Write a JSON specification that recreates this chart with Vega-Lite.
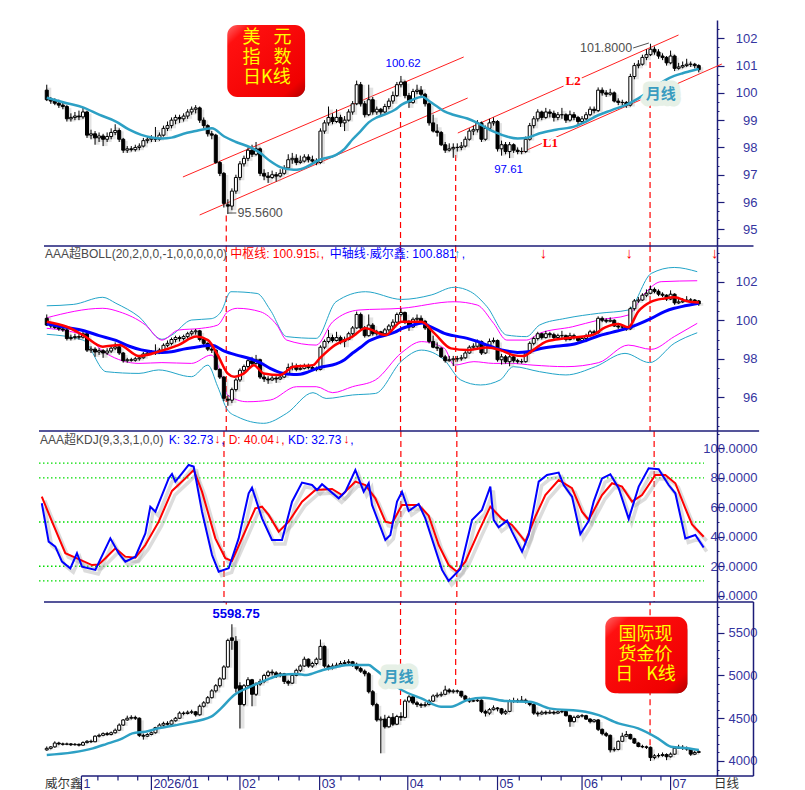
{
"$schema":"https://vega.github.io/schema/vega-lite/v6.json",
"background":"white",
"padding":{"left":37,"top":20,"right":0,"bottom":0},
"spacing":0,
"bounds":"flush",
"config":{"view":{"stroke":null},"font":"Liberation Sans, Noto Sans CJK SC"},
"datasets":{
"dxy":[
{"i":0,"o":100.1,"h":100.3,"l":99.7,"c":99.75},{"i":1,"o":99.75,"h":99.85,"l":99.6,"c":99.7},{"i":2,"o":99.7,"h":99.8,"l":99.55,"c":99.62},{"i":3,"o":99.62,"h":99.75,"l":99.45,"c":99.55},{"i":4,"o":99.55,"h":99.7,"l":99.4,"c":99.5},{"i":5,"o":99.5,"h":99.55,"l":98.95,"c":99.05},{"i":6,"o":99.05,"h":99.25,"l":98.95,"c":99.1},{"i":7,"o":99.1,"h":99.3,"l":99.0,"c":99.15},{"i":8,"o":99.15,"h":99.35,"l":99.0,"c":99.12},{"i":9,"o":99.12,"h":99.45,"l":99.05,"c":99.3},
{"i":10,"o":99.3,"h":99.35,"l":98.35,"c":98.45},{"i":11,"o":98.45,"h":98.65,"l":98.3,"c":98.5},{"i":12,"o":98.5,"h":98.6,"l":98.1,"c":98.35},{"i":13,"o":98.35,"h":98.55,"l":98.2,"c":98.42},{"i":14,"o":98.42,"h":98.5,"l":98.05,"c":98.3},{"i":15,"o":98.3,"h":98.55,"l":98.2,"c":98.4},{"i":16,"o":98.4,"h":98.7,"l":98.3,"c":98.55},{"i":17,"o":98.55,"h":98.85,"l":98.45,"c":98.62},{"i":18,"o":98.62,"h":98.7,"l":98.2,"c":98.3},{"i":19,"o":98.3,"h":98.35,"l":97.8,"c":97.9},
{"i":20,"o":97.9,"h":98.05,"l":97.8,"c":97.95},{"i":21,"o":97.95,"h":98.05,"l":97.85,"c":97.92},{"i":22,"o":97.92,"h":98.1,"l":97.85,"c":98.0},{"i":23,"o":98.0,"h":98.15,"l":97.9,"c":98.05},{"i":24,"o":98.05,"h":98.35,"l":98.0,"c":98.25},{"i":25,"o":98.25,"h":98.4,"l":98.15,"c":98.3},{"i":26,"o":98.3,"h":98.45,"l":98.2,"c":98.35},{"i":27,"o":98.35,"h":98.75,"l":98.2,"c":98.3},{"i":28,"o":98.3,"h":98.55,"l":98.25,"c":98.45},{"i":29,"o":98.45,"h":98.8,"l":98.4,"c":98.7},
{"i":30,"o":98.7,"h":98.95,"l":98.6,"c":98.8},{"i":31,"o":98.8,"h":99.1,"l":98.7,"c":99.0},{"i":32,"o":99.0,"h":99.2,"l":98.85,"c":99.1},{"i":33,"o":99.1,"h":99.2,"l":98.9,"c":99.05},{"i":34,"o":99.05,"h":99.25,"l":98.95,"c":99.15},{"i":35,"o":99.15,"h":99.4,"l":99.05,"c":99.3},{"i":36,"o":99.3,"h":99.5,"l":99.2,"c":99.4},{"i":37,"o":99.4,"h":99.55,"l":99.25,"c":99.45},{"i":38,"o":99.45,"h":99.5,"l":98.9,"c":99.0},{"i":39,"o":99.0,"h":99.1,"l":98.7,"c":98.8},
{"i":40,"o":98.8,"h":98.85,"l":98.4,"c":98.5},{"i":41,"o":98.5,"h":98.6,"l":98.3,"c":98.45},{"i":42,"o":98.45,"h":98.5,"l":97.4,"c":97.45},{"i":43,"o":97.45,"h":97.5,"l":96.95,"c":97.05},{"i":44,"o":97.05,"h":97.1,"l":95.8,"c":95.95},{"i":45,"o":95.9,"h":96.1,"l":95.56,"c":95.85},{"i":46,"o":95.85,"h":96.5,"l":95.7,"c":96.4},{"i":47,"o":96.4,"h":97.0,"l":96.3,"c":96.9},{"i":48,"o":96.9,"h":97.5,"l":96.8,"c":97.4},{"i":49,"o":97.4,"h":97.7,"l":97.3,"c":97.6},
{"i":50,"o":97.6,"h":98.0,"l":97.5,"c":97.9},{"i":51,"o":97.9,"h":98.1,"l":97.65,"c":97.75},{"i":52,"o":97.75,"h":98.2,"l":97.7,"c":97.95},{"i":53,"o":97.95,"h":98.0,"l":96.95,"c":97.05},{"i":54,"o":97.05,"h":97.2,"l":96.8,"c":96.95},{"i":55,"o":96.95,"h":97.1,"l":96.7,"c":96.9},{"i":56,"o":96.9,"h":97.15,"l":96.85,"c":97.0},{"i":57,"o":97.0,"h":97.1,"l":96.75,"c":96.95},{"i":58,"o":96.95,"h":97.2,"l":96.9,"c":97.05},{"i":59,"o":97.05,"h":97.35,"l":97.0,"c":97.25},
{"i":60,"o":97.25,"h":97.75,"l":97.2,"c":97.55},{"i":61,"o":97.55,"h":97.8,"l":97.4,"c":97.6},{"i":62,"o":97.6,"h":97.75,"l":97.35,"c":97.45},{"i":63,"o":97.45,"h":97.7,"l":97.4,"c":97.5},{"i":64,"o":97.5,"h":97.75,"l":97.45,"c":97.65},{"i":65,"o":97.65,"h":97.75,"l":97.45,"c":97.55},{"i":66,"o":97.55,"h":97.7,"l":97.4,"c":97.5},{"i":67,"o":97.5,"h":97.6,"l":97.35,"c":97.45},{"i":68,"o":97.45,"h":98.7,"l":97.4,"c":98.6},{"i":69,"o":98.6,"h":99.0,"l":98.5,"c":98.9},
{"i":70,"o":98.9,"h":99.5,"l":98.8,"c":99.1},{"i":71,"o":99.1,"h":99.25,"l":98.85,"c":98.95},{"i":72,"o":98.95,"h":99.4,"l":98.9,"c":99.1},{"i":73,"o":99.1,"h":99.2,"l":98.75,"c":98.9},{"i":74,"o":98.9,"h":99.15,"l":98.6,"c":99.0},{"i":75,"o":99.0,"h":99.4,"l":98.95,"c":99.3},{"i":76,"o":99.3,"h":99.7,"l":99.2,"c":99.6},{"i":77,"o":99.6,"h":100.45,"l":99.55,"c":100.3},{"i":78,"o":100.3,"h":100.4,"l":99.5,"c":99.6},{"i":79,"o":99.6,"h":99.7,"l":99.1,"c":99.2},
{"i":80,"o":99.2,"h":100.3,"l":99.15,"c":99.75},{"i":81,"o":99.75,"h":99.85,"l":99.2,"c":99.3},{"i":82,"o":99.3,"h":99.5,"l":99.2,"c":99.4},{"i":83,"o":99.4,"h":99.45,"l":99.15,"c":99.3},{"i":84,"o":99.3,"h":99.6,"l":99.25,"c":99.5},{"i":85,"o":99.5,"h":99.8,"l":99.4,"c":99.7},{"i":86,"o":99.7,"h":100.05,"l":99.6,"c":99.9},{"i":87,"o":99.9,"h":100.4,"l":99.85,"c":100.3},{"i":88,"o":100.3,"h":100.62,"l":100.2,"c":100.4},{"i":89,"o":100.4,"h":100.45,"l":99.8,"c":99.9},
{"i":90,"o":99.9,"h":100.0,"l":99.45,"c":99.65},{"i":91,"o":99.65,"h":100.15,"l":99.6,"c":100.05},{"i":92,"o":100.05,"h":100.3,"l":99.95,"c":100.1},{"i":93,"o":100.1,"h":100.25,"l":99.85,"c":99.95},{"i":94,"o":99.95,"h":100.0,"l":99.5,"c":99.6},{"i":95,"o":99.6,"h":99.65,"l":98.8,"c":98.9},{"i":96,"o":98.9,"h":99.2,"l":98.55,"c":98.6},{"i":97,"o":98.6,"h":98.85,"l":98.4,"c":98.55},{"i":98,"o":98.55,"h":98.6,"l":98.05,"c":98.1},{"i":99,"o":98.1,"h":98.2,"l":97.8,"c":97.9},
{"i":100,"o":97.9,"h":98.15,"l":97.85,"c":97.95},{"i":101,"o":97.95,"h":98.15,"l":97.62,"c":98.0},{"i":102,"o":98.0,"h":98.15,"l":97.85,"c":98.0},{"i":103,"o":98.0,"h":98.2,"l":97.9,"c":98.05},{"i":104,"o":98.05,"h":98.4,"l":98.0,"c":98.3},{"i":105,"o":98.3,"h":98.7,"l":98.25,"c":98.6},{"i":106,"o":98.6,"h":98.8,"l":98.45,"c":98.65},{"i":107,"o":98.65,"h":99.0,"l":98.55,"c":98.9},{"i":108,"o":98.9,"h":98.95,"l":98.2,"c":98.3},{"i":109,"o":98.3,"h":98.8,"l":98.25,"c":98.7},
{"i":110,"o":98.7,"h":99.05,"l":98.6,"c":98.9},{"i":111,"o":98.9,"h":99.1,"l":98.8,"c":98.95},{"i":112,"o":98.95,"h":99.0,"l":97.85,"c":97.95},{"i":113,"o":97.95,"h":98.25,"l":97.7,"c":98.1},{"i":114,"o":98.1,"h":98.2,"l":97.75,"c":97.85},{"i":115,"o":97.85,"h":98.2,"l":97.61,"c":98.1},{"i":116,"o":98.1,"h":98.15,"l":97.8,"c":97.9},{"i":117,"o":97.9,"h":98.0,"l":97.75,"c":97.85},{"i":118,"o":97.85,"h":98.0,"l":97.75,"c":97.85},{"i":119,"o":97.85,"h":98.4,"l":97.8,"c":98.3},
{"i":120,"o":98.3,"h":98.9,"l":98.25,"c":98.8},{"i":121,"o":98.8,"h":99.15,"l":98.7,"c":99.05},{"i":122,"o":99.05,"h":99.4,"l":98.95,"c":99.3},{"i":123,"o":99.3,"h":99.35,"l":99.0,"c":99.1},{"i":124,"o":99.1,"h":99.45,"l":99.05,"c":99.3},{"i":125,"o":99.3,"h":99.4,"l":99.1,"c":99.25},{"i":126,"o":99.25,"h":99.35,"l":98.95,"c":99.1},{"i":127,"o":99.1,"h":99.3,"l":99.0,"c":99.2},{"i":128,"o":99.2,"h":99.45,"l":99.05,"c":99.2},{"i":129,"o":99.2,"h":99.25,"l":98.9,"c":99.0},
{"i":130,"o":99.0,"h":99.35,"l":98.95,"c":99.2},{"i":131,"o":99.2,"h":99.3,"l":99.0,"c":99.1},{"i":132,"o":99.1,"h":99.15,"l":98.85,"c":98.95},{"i":133,"o":98.95,"h":99.15,"l":98.9,"c":99.05},{"i":134,"o":99.05,"h":99.3,"l":99.0,"c":99.2},{"i":135,"o":99.2,"h":99.5,"l":99.15,"c":99.4},{"i":136,"o":99.4,"h":99.5,"l":99.25,"c":99.35},{"i":137,"o":99.35,"h":100.2,"l":99.3,"c":100.1},{"i":138,"o":100.1,"h":100.2,"l":99.9,"c":100.0},{"i":139,"o":100.0,"h":100.1,"l":99.85,"c":99.95},
{"i":140,"o":99.95,"h":100.15,"l":99.9,"c":100.0},{"i":141,"o":100.0,"h":100.05,"l":99.65,"c":99.7},{"i":142,"o":99.7,"h":99.8,"l":99.55,"c":99.65},{"i":143,"o":99.65,"h":99.75,"l":99.55,"c":99.65},{"i":144,"o":99.65,"h":99.7,"l":99.45,"c":99.55},{"i":145,"o":99.55,"h":100.7,"l":99.5,"c":100.6},{"i":146,"o":100.6,"h":101.1,"l":100.5,"c":101.0},{"i":147,"o":101.0,"h":101.2,"l":100.9,"c":101.05},{"i":148,"o":101.05,"h":101.4,"l":101.0,"c":101.3},{"i":149,"o":101.3,"h":101.6,"l":101.2,"c":101.4},
{"i":150,"o":101.4,"h":101.8,"l":101.35,"c":101.6},{"i":151,"o":101.6,"h":101.7,"l":101.4,"c":101.5},{"i":152,"o":101.5,"h":101.6,"l":101.25,"c":101.35},{"i":153,"o":101.35,"h":101.45,"l":101.2,"c":101.3},{"i":154,"o":101.3,"h":101.35,"l":101.0,"c":101.1},{"i":155,"o":101.1,"h":101.55,"l":101.05,"c":101.35},{"i":156,"o":101.35,"h":101.4,"l":100.8,"c":100.9},{"i":157,"o":100.9,"h":101.1,"l":100.85,"c":100.95},{"i":158,"o":100.95,"h":101.15,"l":100.9,"c":101.0},{"i":159,"o":101.0,"h":101.25,"l":100.95,"c":101.05},
{"i":160,"o":101.05,"h":101.15,"l":100.95,"c":101.05},{"i":161,"o":101.05,"h":101.1,"l":100.9,"c":101.0},{"i":162,"o":101.0,"h":101.05,"l":100.75,"c":100.85}
],
"gold":[
{"i":0,"o":4130,"h":4170,"l":4120,"c":4148},{"i":1,"o":4148,"h":4175,"l":4135,"c":4165},{"i":2,"o":4165,"h":4230,"l":4155,"c":4210},{"i":3,"o":4210,"h":4225,"l":4185,"c":4200},{"i":4,"o":4200,"h":4215,"l":4180,"c":4195},{"i":5,"o":4195,"h":4215,"l":4185,"c":4200},{"i":6,"o":4200,"h":4210,"l":4175,"c":4190},{"i":7,"o":4190,"h":4210,"l":4180,"c":4195},{"i":8,"o":4195,"h":4205,"l":4170,"c":4185},{"i":9,"o":4185,"h":4230,"l":4180,"c":4215},
{"i":10,"o":4215,"h":4245,"l":4205,"c":4230},{"i":11,"o":4230,"h":4250,"l":4210,"c":4225},{"i":12,"o":4225,"h":4300,"l":4220,"c":4290},{"i":13,"o":4290,"h":4320,"l":4275,"c":4300},{"i":14,"o":4300,"h":4335,"l":4290,"c":4320},{"i":15,"o":4320,"h":4340,"l":4295,"c":4310},{"i":16,"o":4310,"h":4345,"l":4300,"c":4330},{"i":17,"o":4330,"h":4380,"l":4320,"c":4360},{"i":18,"o":4360,"h":4440,"l":4350,"c":4420},{"i":19,"o":4420,"h":4490,"l":4410,"c":4480},
{"i":20,"o":4480,"h":4530,"l":4470,"c":4500},{"i":21,"o":4500,"h":4535,"l":4485,"c":4510},{"i":22,"o":4510,"h":4530,"l":4480,"c":4500},{"i":23,"o":4500,"h":4510,"l":4280,"c":4300},{"i":24,"o":4300,"h":4320,"l":4250,"c":4290},{"i":25,"o":4290,"h":4325,"l":4280,"c":4310},{"i":26,"o":4310,"h":4345,"l":4300,"c":4330},{"i":27,"o":4330,"h":4400,"l":4320,"c":4390},{"i":28,"o":4390,"h":4440,"l":4380,"c":4420},{"i":29,"o":4420,"h":4460,"l":4400,"c":4440},
{"i":30,"o":4440,"h":4465,"l":4415,"c":4430},{"i":31,"o":4430,"h":4485,"l":4420,"c":4470},{"i":32,"o":4470,"h":4515,"l":4460,"c":4500},{"i":33,"o":4500,"h":4580,"l":4490,"c":4560},{"i":34,"o":4560,"h":4580,"l":4535,"c":4555},{"i":35,"o":4555,"h":4590,"l":4545,"c":4570},{"i":36,"o":4570,"h":4600,"l":4550,"c":4575},{"i":37,"o":4575,"h":4585,"l":4520,"c":4540},{"i":38,"o":4540,"h":4660,"l":4530,"c":4640},{"i":39,"o":4640,"h":4700,"l":4625,"c":4680},
{"i":40,"o":4680,"h":4760,"l":4670,"c":4740},{"i":41,"o":4740,"h":4840,"l":4730,"c":4820},{"i":42,"o":4820,"h":4900,"l":4800,"c":4880},{"i":43,"o":4880,"h":4980,"l":4860,"c":4960},{"i":44,"o":4960,"h":5120,"l":4950,"c":5100},{"i":45,"o":5100,"h":5430,"l":5090,"c":5410},{"i":46,"o":5440,"h":5598.75,"l":5300,"c":5410},{"i":47,"o":5400,"h":5460,"l":4800,"c":4850},{"i":48,"o":4880,"h":4920,"l":4380,"c":4660},{"i":49,"o":4660,"h":4900,"l":4640,"c":4880},
{"i":50,"o":4880,"h":4980,"l":4860,"c":4950},{"i":51,"o":4950,"h":4960,"l":4640,"c":4780},{"i":52,"o":4780,"h":4920,"l":4760,"c":4900},{"i":53,"o":4900,"h":4960,"l":4880,"c":4930},{"i":54,"o":4930,"h":5020,"l":4910,"c":5000},{"i":55,"o":5000,"h":5060,"l":4980,"c":5040},{"i":56,"o":5040,"h":5070,"l":5000,"c":5030},{"i":57,"o":5030,"h":5050,"l":4970,"c":5000},{"i":58,"o":5000,"h":5040,"l":4980,"c":5020},{"i":59,"o":5020,"h":5030,"l":4900,"c":4930},
{"i":60,"o":4930,"h":4950,"l":4880,"c":4910},{"i":61,"o":4910,"h":5020,"l":4900,"c":5000},{"i":62,"o":5000,"h":5080,"l":4990,"c":5060},{"i":63,"o":5060,"h":5130,"l":5040,"c":5110},{"i":64,"o":5110,"h":5220,"l":5100,"c":5190},{"i":65,"o":5190,"h":5200,"l":5090,"c":5110},{"i":66,"o":5110,"h":5160,"l":5090,"c":5140},{"i":67,"o":5140,"h":5210,"l":5120,"c":5190},{"i":68,"o":5190,"h":5420,"l":5180,"c":5340},{"i":69,"o":5340,"h":5350,"l":5090,"c":5110},
{"i":70,"o":5110,"h":5130,"l":5060,"c":5090},{"i":71,"o":5090,"h":5140,"l":5070,"c":5110},{"i":72,"o":5110,"h":5150,"l":5090,"c":5120},{"i":73,"o":5120,"h":5170,"l":5100,"c":5140},{"i":74,"o":5140,"h":5180,"l":5120,"c":5150},{"i":75,"o":5150,"h":5190,"l":5130,"c":5160},{"i":76,"o":5160,"h":5170,"l":5100,"c":5130},{"i":77,"o":5130,"h":5150,"l":5060,"c":5080},{"i":78,"o":5080,"h":5100,"l":5030,"c":5050},{"i":79,"o":5050,"h":5070,"l":4990,"c":5020},
{"i":80,"o":5020,"h":5040,"l":4790,"c":4810},{"i":81,"o":4810,"h":4830,"l":4640,"c":4660},{"i":82,"o":4660,"h":4680,"l":4460,"c":4480},{"i":83,"o":4480,"h":4520,"l":4090,"c":4490},{"i":84,"o":4490,"h":4540,"l":4380,"c":4400},{"i":85,"o":4400,"h":4530,"l":4390,"c":4510},{"i":86,"o":4510,"h":4560,"l":4410,"c":4430},{"i":87,"o":4430,"h":4540,"l":4420,"c":4520},{"i":88,"o":4520,"h":4570,"l":4470,"c":4510},{"i":89,"o":4510,"h":4720,"l":4500,"c":4700},
{"i":90,"o":4700,"h":4770,"l":4680,"c":4750},{"i":91,"o":4750,"h":4770,"l":4660,"c":4680},{"i":92,"o":4680,"h":4700,"l":4630,"c":4660},{"i":93,"o":4660,"h":4680,"l":4620,"c":4650},{"i":94,"o":4650,"h":4690,"l":4630,"c":4660},{"i":95,"o":4660,"h":4720,"l":4650,"c":4700},{"i":96,"o":4700,"h":4780,"l":4690,"c":4760},{"i":97,"o":4760,"h":4800,"l":4740,"c":4770},{"i":98,"o":4770,"h":4810,"l":4750,"c":4780},{"i":99,"o":4780,"h":4880,"l":4770,"c":4830},
{"i":100,"o":4830,"h":4850,"l":4790,"c":4810},{"i":101,"o":4810,"h":4840,"l":4790,"c":4820},{"i":102,"o":4820,"h":4835,"l":4790,"c":4815},{"i":103,"o":4815,"h":4820,"l":4740,"c":4760},{"i":104,"o":4760,"h":4770,"l":4700,"c":4720},{"i":105,"o":4720,"h":4740,"l":4680,"c":4700},{"i":106,"o":4700,"h":4730,"l":4690,"c":4705},{"i":107,"o":4705,"h":4740,"l":4690,"c":4710},{"i":108,"o":4710,"h":4720,"l":4560,"c":4580},{"i":109,"o":4580,"h":4600,"l":4520,"c":4560},
{"i":110,"o":4560,"h":4620,"l":4540,"c":4600},{"i":111,"o":4600,"h":4650,"l":4590,"c":4620},{"i":112,"o":4620,"h":4630,"l":4580,"c":4610},{"i":113,"o":4610,"h":4620,"l":4540,"c":4560},{"i":114,"o":4560,"h":4600,"l":4540,"c":4580},{"i":115,"o":4580,"h":4720,"l":4570,"c":4700},{"i":116,"o":4700,"h":4740,"l":4680,"c":4705},{"i":117,"o":4705,"h":4730,"l":4680,"c":4700},{"i":118,"o":4700,"h":4760,"l":4690,"c":4710},{"i":119,"o":4710,"h":4730,"l":4670,"c":4690},
{"i":120,"o":4690,"h":4700,"l":4640,"c":4660},{"i":121,"o":4660,"h":4670,"l":4540,"c":4560},{"i":122,"o":4560,"h":4580,"l":4520,"c":4550},{"i":123,"o":4550,"h":4590,"l":4540,"c":4570},{"i":124,"o":4570,"h":4590,"l":4540,"c":4560},{"i":125,"o":4560,"h":4600,"l":4550,"c":4570},{"i":126,"o":4570,"h":4590,"l":4540,"c":4560},{"i":127,"o":4560,"h":4590,"l":4550,"c":4575},{"i":128,"o":4575,"h":4600,"l":4560,"c":4580},{"i":129,"o":4580,"h":4590,"l":4520,"c":4530},
{"i":130,"o":4530,"h":4540,"l":4400,"c":4460},{"i":131,"o":4460,"h":4530,"l":4450,"c":4510},{"i":132,"o":4510,"h":4540,"l":4500,"c":4525},{"i":133,"o":4525,"h":4550,"l":4510,"c":4530},{"i":134,"o":4530,"h":4540,"l":4480,"c":4490},{"i":135,"o":4490,"h":4500,"l":4440,"c":4460},{"i":136,"o":4460,"h":4490,"l":4450,"c":4480},{"i":137,"o":4480,"h":4490,"l":4350,"c":4370},{"i":138,"o":4370,"h":4380,"l":4300,"c":4320},{"i":139,"o":4320,"h":4340,"l":4280,"c":4300},
{"i":140,"o":4300,"h":4310,"l":4100,"c":4130},{"i":141,"o":4130,"h":4160,"l":4110,"c":4135},{"i":142,"o":4135,"h":4240,"l":4125,"c":4230},{"i":143,"o":4230,"h":4330,"l":4220,"c":4290},{"i":144,"o":4290,"h":4350,"l":4280,"c":4310},{"i":145,"o":4310,"h":4320,"l":4250,"c":4260},{"i":146,"o":4260,"h":4270,"l":4200,"c":4210},{"i":147,"o":4210,"h":4220,"l":4160,"c":4170},{"i":148,"o":4170,"h":4190,"l":4150,"c":4165},{"i":149,"o":4165,"h":4180,"l":4140,"c":4160},
{"i":150,"o":4160,"h":4170,"l":4000,"c":4040},{"i":151,"o":4040,"h":4080,"l":4020,"c":4060},{"i":152,"o":4060,"h":4090,"l":4040,"c":4065},{"i":153,"o":4065,"h":4100,"l":4050,"c":4075},{"i":154,"o":4075,"h":4090,"l":4010,"c":4050},{"i":155,"o":4050,"h":4100,"l":4040,"c":4080},{"i":156,"o":4080,"h":4160,"l":4070,"c":4150},{"i":157,"o":4150,"h":4190,"l":4140,"c":4160},{"i":158,"o":4160,"h":4185,"l":4130,"c":4150},{"i":159,"o":4150,"h":4170,"l":4120,"c":4140},
{"i":160,"o":4140,"h":4150,"l":4060,"c":4080},{"i":161,"o":4080,"h":4120,"l":4070,"c":4100},{"i":162,"o":4100,"h":4125,"l":4090,"c":4110}
],
"ma":[
{"i":0,"v":99.82},{"i":5,"v":99.62},{"i":9,"v":99.47},{"i":13,"v":99.2},{"i":17.2,"v":98.95},{"i":20.5,"v":98.65},{"i":23.5,"v":98.46},{"i":28.6,"v":98.33},{"i":31,"v":98.36},{"i":34,"v":98.5},{"i":37,"v":98.6},{"i":39.5,"v":98.68},{"i":41,"v":98.7},{"i":44.1,"v":98.4},{"i":47,"v":98.2},{"i":50.6,"v":98.0},{"i":53,"v":97.8},{"i":55.5,"v":97.5},{"i":58,"v":97.28},{"i":61.3,"v":97.18},{"i":63,"v":97.2},{"i":65,"v":97.32},{"i":67.8,"v":97.55},{"i":71.9,"v":97.73},{"i":74,"v":97.95},{"i":76,"v":98.3},{"i":78,"v":98.6},{"i":80,"v":98.92},{"i":82,"v":99.1},{"i":84.5,"v":99.24},{"i":86.5,"v":99.38},{"i":88.2,"v":99.57},{"i":90.5,"v":99.72},{"i":93.3,"v":99.86},{"i":95,"v":99.7},{"i":97,"v":99.5},{"i":98.8,"v":99.32},{"i":101,"v":99.2},{"i":104.5,"v":99.06},{"i":107,"v":98.9},{"i":109.4,"v":98.7},{"i":111.5,"v":98.55},{"i":114.3,"v":98.4},{"i":117,"v":98.33},{"i":119.5,"v":98.36},{"i":122.5,"v":98.52},{"i":126.5,"v":98.65},{"i":131.4,"v":98.78},{"i":134,"v":98.95},{"i":137,"v":99.18},{"i":140.4,"v":99.37},{"i":144.5,"v":99.6},{"i":147,"v":99.8},{"i":150.2,"v":100.1},{"i":153.5,"v":100.45},{"i":155.9,"v":100.62},{"i":158,"v":100.72},{"i":160,"v":100.8},{"i":162,"v":100.88}
],
"mid":[
{"i":0,"v":99.92},{"i":4.94,"v":99.66},{"i":9.02,"v":99.23},{"i":13.92,"v":98.63},{"i":18.0,"v":98.71},{"i":22.91,"v":98.14},{"i":27.8,"v":98.37},{"i":32.69,"v":98.71},{"i":37.18,"v":99.15},{"i":40.04,"v":98.97},{"i":42.48,"v":98.19},{"i":44.93,"v":97.24},{"i":46.56,"v":97.07},{"i":49.01,"v":97.24},{"i":51.46,"v":97.67},{"i":53.91,"v":97.24},{"i":57.99,"v":97.16},{"i":61.26,"v":97.59},{"i":66.15,"v":97.67},{"i":67.79,"v":98.02},{"i":71.05,"v":98.63},{"i":75.95,"v":99.15},{"i":79.21,"v":99.58},{"i":84.1,"v":99.23},{"i":88.18,"v":99.92},{"i":93.08,"v":99.92},{"i":96.34,"v":99.32},{"i":100.42,"v":98.54},{"i":104.5,"v":98.45},{"i":109.4,"v":98.59},{"i":112.66,"v":98.45},{"i":115.92,"v":98.19},{"i":118.37,"v":98.14},{"i":120.82,"v":98.45},{"i":124.08,"v":98.89},{"i":128.98,"v":99.06},{"i":135.51,"v":99.23},{"i":138.77,"v":99.63},{"i":142.04,"v":99.8},{"i":144.48,"v":99.63},{"i":146.93,"v":100.44},{"i":150.2,"v":100.96},{"i":153.46,"v":101.13},{"i":155.91,"v":101.19},{"i":159.17,"v":100.99},{"i":162.03,"v":100.915}
],
"bands":[
{"s":"ou","i":0,"v":100.75},{"s":"ou","i":6.58,"v":100.82},{"s":"ou","i":13.92,"v":101.19},{"s":"ou","i":17.18,"v":100.88},{"s":"ou","i":22.91,"v":100.18},{"s":"ou","i":28.61,"v":99.01},{"s":"ou","i":31.06,"v":99.23},{"s":"ou","i":35.95,"v":100.01},{"s":"ou","i":40.85,"v":100.08},{"s":"ou","i":43.3,"v":100.44},{"s":"ou","i":45.75,"v":101.48},{"s":"ou","i":52.27,"v":101.39},{"s":"ou","i":55.54,"v":100.53},{"s":"ou","i":59.62,"v":99.15},{"s":"ou","i":66.97,"v":99.06},{"s":"ou","i":71.87,"v":100.96},{"s":"ou","i":79.21,"v":101.48},{"s":"ou","i":88.18,"v":101.08},{"s":"ou","i":95.52,"v":101.31},{"s":"ou","i":101.24,"v":101.71},{"s":"ou","i":105.32,"v":101.48},{"s":"ou","i":109.4,"v":100.7},{"s":"ou","i":114.29,"v":99.23},{"s":"ou","i":119.19,"v":99.15},{"s":"ou","i":122.45,"v":99.75},{"s":"ou","i":128.98,"v":100.1},{"s":"ou","i":137.14,"v":100.36},{"s":"ou","i":144.48,"v":100.53},{"s":"ou","i":150.2,"v":102.43},{"s":"ou","i":155.91,"v":102.74},{"s":"ou","i":161.62,"v":102.52},
{"s":"iu","i":0,"v":100.13},{"s":"iu","i":13.92,"v":100.62},{"s":"iu","i":18.0,"v":100.44},{"s":"iu","i":24.54,"v":99.75},{"s":"iu","i":28.61,"v":98.97},{"s":"iu","i":32.69,"v":99.49},{"s":"iu","i":38.4,"v":99.58},{"s":"iu","i":42.48,"v":99.75},{"s":"iu","i":44.93,"v":100.44},{"s":"iu","i":47.38,"v":100.62},{"s":"iu","i":53.09,"v":100.44},{"s":"iu","i":57.17,"v":99.75},{"s":"iu","i":59.62,"v":98.97},{"s":"iu","i":66.97,"v":98.71},{"s":"iu","i":71.05,"v":99.92},{"s":"iu","i":77.58,"v":100.53},{"s":"iu","i":88.18,"v":100.62},{"s":"iu","i":101.24,"v":100.96},{"s":"iu","i":106.95,"v":100.79},{"s":"iu","i":111.03,"v":99.84},{"s":"iu","i":114.29,"v":98.97},{"s":"iu","i":119.19,"v":98.97},{"s":"iu","i":122.45,"v":99.32},{"s":"iu","i":130.61,"v":99.66},{"s":"iu","i":137.14,"v":100.01},{"s":"iu","i":144.48,"v":100.27},{"s":"iu","i":148.56,"v":101.39},{"s":"iu","i":152.65,"v":102.0},{"s":"iu","i":161.62,"v":102.05},
{"s":"il","i":0,"v":99.58},{"s":"il","i":9.02,"v":99.23},{"s":"il","i":14.74,"v":98.28},{"s":"il","i":22.91,"v":97.76},{"s":"il","i":28.61,"v":97.8},{"s":"il","i":35.95,"v":97.76},{"s":"il","i":40.85,"v":98.19},{"s":"il","i":43.3,"v":97.24},{"s":"il","i":44.93,"v":96.12},{"s":"il","i":49.83,"v":95.77},{"s":"il","i":55.54,"v":95.86},{"s":"il","i":62.07,"v":96.55},{"s":"il","i":66.97,"v":96.55},{"s":"il","i":71.05,"v":96.24},{"s":"il","i":75.95,"v":96.55},{"s":"il","i":81.66,"v":96.9},{"s":"il","i":88.18,"v":98.32},{"s":"il","i":93.08,"v":98.89},{"s":"il","i":98.79,"v":98.54},{"s":"il","i":101.24,"v":97.67},{"s":"il","i":106.13,"v":97.85},{"s":"il","i":111.03,"v":97.76},{"s":"il","i":115.11,"v":97.76},{"s":"il","i":120.82,"v":97.67},{"s":"il","i":128.98,"v":97.59},{"s":"il","i":137.14,"v":97.8},{"s":"il","i":144.48,"v":98.71},{"s":"il","i":150.2,"v":98.49},{"s":"il","i":155.91,"v":99.15},{"s":"il","i":161.62,"v":99.84},
{"s":"ol","i":0,"v":99.27},{"s":"ol","i":9.02,"v":98.97},{"s":"ol","i":14.74,"v":97.33},{"s":"ol","i":22.91,"v":97.24},{"s":"ol","i":27.8,"v":97.42},{"s":"ol","i":35.95,"v":97.07},{"s":"ol","i":40.04,"v":97.67},{"s":"ol","i":42.48,"v":96.55},{"s":"ol","i":44.93,"v":95.34},{"s":"ol","i":47.38,"v":94.99},{"s":"ol","i":53.91,"v":94.65},{"s":"ol","i":59.62,"v":95.17},{"s":"ol","i":66.15,"v":96.24},{"s":"ol","i":69.42,"v":95.94},{"s":"ol","i":75.95,"v":96.12},{"s":"ol","i":81.66,"v":96.2},{"s":"ol","i":88.18,"v":97.89},{"s":"ol","i":93.08,"v":98.45},{"s":"ol","i":98.79,"v":97.93},{"s":"ol","i":102.87,"v":96.9},{"s":"ol","i":107.76,"v":96.64},{"s":"ol","i":112.66,"v":96.9},{"s":"ol","i":115.92,"v":97.59},{"s":"ol","i":122.45,"v":97.33},{"s":"ol","i":128.98,"v":97.16},{"s":"ol","i":136.32,"v":97.59},{"s":"ol","i":143.67,"v":98.28},{"s":"ol","i":149.79,"v":97.8},{"s":"ol","i":155.91,"v":98.8},{"s":"ol","i":161.62,"v":99.35}
],
"kd":[
{"s":"K","i":0,"v":62.7},{"s":"K","i":1.68,"v":36.7},{"s":"K","i":3.31,"v":33.3},{"s":"K","i":4.94,"v":23.1},{"s":"K","i":6.98,"v":18.6},{"s":"K","i":8.61,"v":28.8},{"s":"K","i":9.84,"v":19.7},{"s":"K","i":13.1,"v":17.5},{"s":"K","i":16.78,"v":38.9},{"s":"K","i":18.82,"v":28.8},{"s":"K","i":20.45,"v":23.1},{"s":"K","i":22.91,"v":26.5},{"s":"K","i":25.35,"v":42.3},{"s":"K","i":26.57,"v":60.4},{"s":"K","i":27.8,"v":57.0},{"s":"K","i":31.06,"v":79.6},{"s":"K","i":31.87,"v":82.6},{"s":"K","i":32.69,"v":77.4},{"s":"K","i":34.32,"v":83.0},{"s":"K","i":35.95,"v":88.7},{"s":"K","i":37.18,"v":87.6},{"s":"K","i":39.22,"v":57.0},{"s":"K","i":41.67,"v":27.6},{"s":"K","i":43.3,"v":16.3},{"s":"K","i":45.75,"v":18.6},{"s":"K","i":48.19,"v":38.9},{"s":"K","i":50.64,"v":69.5},{"s":"K","i":51.46,"v":73.3},{"s":"K","i":53.91,"v":52.5},{"s":"K","i":56.35,"v":37.8},{"s":"K","i":58.8,"v":37.8},{"s":"K","i":61.26,"v":63.8},{"s":"K","i":63.7,"v":76.7},{"s":"K","i":66.15,"v":75.1},{"s":"K","i":67.38,"v":71.7},{"s":"K","i":68.6,"v":75.6},{"s":"K","i":72.68,"v":66.1},{"s":"K","i":74.31,"v":70.6},{"s":"K","i":76.76,"v":85.3},{"s":"K","i":78.8,"v":70.6},{"s":"K","i":80.03,"v":76.3},{"s":"K","i":80.84,"v":61.6},{"s":"K","i":84.1,"v":37.8},{"s":"K","i":85.33,"v":41.2},{"s":"K","i":86.96,"v":63.8},{"s":"K","i":88.18,"v":70.5},{"s":"K","i":89.81,"v":57.5},{"s":"K","i":92.26,"v":62.2},{"s":"K","i":93.89,"v":52.5},{"s":"K","i":97.97,"v":17.5},{"s":"K","i":99.6,"v":10.0},{"s":"K","i":102.46,"v":18.1},{"s":"K","i":105.32,"v":51.4},{"s":"K","i":107.76,"v":58.2},{"s":"K","i":109.8,"v":74.0},{"s":"K","i":110.62,"v":51.4},{"s":"K","i":111.84,"v":46.4},{"s":"K","i":113.88,"v":50.9},{"s":"K","i":115.11,"v":43.5},{"s":"K","i":117.56,"v":29.9},{"s":"K","i":119.19,"v":41.2},{"s":"K","i":121.64,"v":77.4},{"s":"K","i":123.68,"v":81.9},{"s":"K","i":126.53,"v":83.5},{"s":"K","i":127.76,"v":75.1},{"s":"K","i":129.8,"v":67.2},{"s":"K","i":131.84,"v":41.7},{"s":"K","i":133.88,"v":50.7},{"s":"K","i":135.1,"v":63.8},{"s":"K","i":137.14,"v":79.6},{"s":"K","i":139.18,"v":82.4},{"s":"K","i":141.22,"v":72.9},{"s":"K","i":143.67,"v":52.1},{"s":"K","i":146.12,"v":74.0},{"s":"K","i":148.56,"v":86.4},{"s":"K","i":151.01,"v":85.8},{"s":"K","i":153.46,"v":75.1},{"s":"K","i":155.09,"v":69.5},{"s":"K","i":157.54,"v":38.9},{"s":"K","i":159.99,"v":41.2},{"s":"K","i":162.03,"v":32.73},
{"s":"D","i":0,"v":67.2},{"s":"D","i":2.5,"v":50.2},{"s":"D","i":5.76,"v":28.8},{"s":"D","i":8.21,"v":25.8},{"s":"D","i":12.29,"v":20.8},{"s":"D","i":13.92,"v":21.2},{"s":"D","i":15.56,"v":25.4},{"s":"D","i":18.0,"v":32.2},{"s":"D","i":20.45,"v":26.5},{"s":"D","i":22.91,"v":25.8},{"s":"D","i":25.35,"v":34.4},{"s":"D","i":28.61,"v":50.2},{"s":"D","i":31.87,"v":71.1},{"s":"D","i":35.14,"v":79.6},{"s":"D","i":37.18,"v":85.3},{"s":"D","i":39.22,"v":70.6},{"s":"D","i":42.48,"v":38.9},{"s":"D","i":44.93,"v":25.4},{"s":"D","i":46.56,"v":23.6},{"s":"D","i":49.01,"v":38.9},{"s":"D","i":52.27,"v":59.3},{"s":"D","i":53.91,"v":60.4},{"s":"D","i":55.54,"v":54.8},{"s":"D","i":57.99,"v":43.5},{"s":"D","i":60.44,"v":50.2},{"s":"D","i":63.7,"v":63.8},{"s":"D","i":66.97,"v":71.7},{"s":"D","i":71.05,"v":72.4},{"s":"D","i":73.5,"v":68.3},{"s":"D","i":76.76,"v":77.4},{"s":"D","i":79.21,"v":75.1},{"s":"D","i":81.66,"v":66.1},{"s":"D","i":84.1,"v":50.2},{"s":"D","i":85.74,"v":49.1},{"s":"D","i":88.18,"v":61.6},{"s":"D","i":92.26,"v":61.6},{"s":"D","i":94.71,"v":54.3},{"s":"D","i":97.16,"v":34.4},{"s":"D","i":99.6,"v":20.8},{"s":"D","i":101.64,"v":16.3},{"s":"D","i":103.68,"v":23.1},{"s":"D","i":106.95,"v":43.5},{"s":"D","i":109.8,"v":60.4},{"s":"D","i":112.66,"v":52.1},{"s":"D","i":115.11,"v":48.0},{"s":"D","i":118.37,"v":36.7},{"s":"D","i":120.82,"v":53.6},{"s":"D","i":123.27,"v":68.3},{"s":"D","i":126.53,"v":78.5},{"s":"D","i":129.8,"v":72.9},{"s":"D","i":132.24,"v":57.0},{"s":"D","i":133.88,"v":51.4},{"s":"D","i":137.14,"v":68.3},{"s":"D","i":139.59,"v":76.3},{"s":"D","i":142.04,"v":74.0},{"s":"D","i":144.48,"v":63.8},{"s":"D","i":146.93,"v":68.3},{"s":"D","i":150.2,"v":81.9},{"s":"D","i":152.65,"v":81.9},{"s":"D","i":155.09,"v":76.3},{"s":"D","i":157.54,"v":59.3},{"s":"D","i":159.17,"v":48.4},{"s":"D","i":162.03,"v":40.04}
],
"gma":[
{"i":0,"v":4070},{"i":11.47,"v":4148},{"i":14.74,"v":4198},{"i":18.82,"v":4265},{"i":21.27,"v":4323},{"i":24.54,"v":4343},{"i":27.8,"v":4382},{"i":34.32,"v":4440},{"i":40.85,"v":4518},{"i":43.3,"v":4615},{"i":46.56,"v":4771},{"i":50.64,"v":4869},{"i":55.54,"v":4966},{"i":57.99,"v":5005},{"i":62.07,"v":5017},{"i":64.52,"v":5005},{"i":66.15,"v":5025},{"i":68.6,"v":5064},{"i":71.87,"v":5100},{"i":75.13,"v":5122},{"i":80.03,"v":5122},{"i":81.25,"v":5083},{"i":88.18,"v":4830},{"i":93.08,"v":4732},{"i":97.97,"v":4635},{"i":100.42,"v":4635},{"i":104.5,"v":4713},{"i":108.58,"v":4740},{"i":114.29,"v":4701},{"i":120.0,"v":4693},{"i":124.9,"v":4615},{"i":133.88,"v":4576},{"i":137.14,"v":4537},{"i":142.04,"v":4440},{"i":146.93,"v":4382},{"i":151.83,"v":4265},{"i":155.09,"v":4167},{"i":159.17,"v":4148},{"i":162.03,"v":4128}
],
"trend":[
{"s":"A","i":37.99,"v":95.524},{"s":"A","i":104.58,"v":99.812},
{"s":"B","i":33.83,"v":96.917},{"s":"B","i":103.6,"v":101.315},
{"s":"L2","i":102.13,"v":98.529},{"s":"L2","i":156.97,"v":102.121},
{"s":"L1","i":118.36,"v":97.844},{"s":"L1","i":167.74,"v":101.058}
],
"vlines":[
{"i":44.6,"v1":95.51,"v4":5830},{"i":87.9,"v1":99.3,"v4":4655},{"i":101.6,"v1":97.72,"v4":4888},{"i":149.9,"v1":101.13,"v4":4185}
],
"kdgrid":[{"lv":90},{"lv":80},{"lv":50},{"lv":20},{"lv":10}],
"xticks":[
{"t":8.62,"k":"m","lab":"1"},{"t":26,"k":"m","lab":"2026/01"},{"t":48,"k":"m","lab":"02"},{"t":67.8,"k":"m","lab":"03"},{"t":89.7,"k":"m","lab":"04"},{"t":112,"k":"m","lab":"05"},{"t":133,"k":"m","lab":"06"},{"t":155,"k":"m","lab":"07"},
{"t":12.7,"k":"w","lab":""},{"t":17.7,"k":"w","lab":""},{"t":22.6,"k":"w","lab":""},{"t":30.2,"k":"w","lab":""},{"t":35.4,"k":"w","lab":""},{"t":40.2,"k":"w","lab":""},{"t":44.9,"k":"w","lab":""},{"t":52.7,"k":"w","lab":""},{"t":57.6,"k":"w","lab":""},{"t":62.7,"k":"w","lab":""},{"t":73.1,"k":"w","lab":""},{"t":77.6,"k":"w","lab":""},{"t":82.9,"k":"w","lab":""},{"t":97.8,"k":"w","lab":""},{"t":102.7,"k":"w","lab":""},{"t":107.6,"k":"w","lab":""},{"t":117.4,"k":"w","lab":""},{"t":122.9,"k":"w","lab":""},{"t":127.8,"k":"w","lab":""},{"t":137.9,"k":"w","lab":""},{"t":142.8,"k":"w","lab":""},{"t":147.7,"k":"w","lab":""},{"t":152.6,"k":"w","lab":""}
]
},
"vconcat":[
{"width":678,"height":226,
"resolve":{"axis":{"y":"independent"}},
"layer":[
{"data":{"name":"vlines"},"mark":{"type":"rule","color":"#ff0000","strokeWidth":1.2,"strokeDash":[6,4]},"encoding":{"x":{"field":"i","type":"quantitative","scale":{"domain":[-0.685,165.29],"nice":false,"zero":false},"axis":null},"y":{"field":"v1","type":"quantitative","scale":{"domain":[94.388,102.671],"nice":false,"zero":false},"axis":null},"y2":{"datum":94.388}}},
{"data":{"name":"trend"},"mark":{"type":"line","color":"#ff2020","strokeWidth":1},"encoding":{"x":{"field":"i","type":"quantitative","scale":{"domain":[-0.685,165.29],"nice":false,"zero":false},"axis":null},"y":{"field":"v","type":"quantitative","scale":{"domain":[94.388,102.671],"nice":false,"zero":false},"axis":null},"detail":{"field":"s"}}},
{"data":{"name":"dxy"},"mark":{"type":"bar","width":5,"color":"#b0b0b0","opacity":0.35,"xOffset":2,"yOffset":3},"encoding":{"x":{"field":"i","type":"quantitative","scale":{"domain":[-0.685,165.29],"nice":false,"zero":false},"axis":null},"y":{"field":"h","type":"quantitative","scale":{"domain":[94.388,102.671],"nice":false,"zero":false},"axis":null},"y2":{"field":"l"}}},
{"data":{"name":"dxy"},"mark":{"type":"rule","color":"#000000","strokeWidth":1},"encoding":{"x":{"field":"i","type":"quantitative","scale":{"domain":[-0.685,165.29],"nice":false,"zero":false},"axis":null},"y":{"field":"l","type":"quantitative","scale":{"domain":[94.388,102.671],"nice":false,"zero":false},"axis":null},"y2":{"field":"h"}}},
{"data":{"name":"dxy"},"mark":{"type":"bar","width":3,"stroke":"#000000","strokeWidth":1},"encoding":{"x":{"field":"i","type":"quantitative","scale":{"domain":[-0.685,165.29],"nice":false,"zero":false},"axis":null},"y":{"field":"o","type":"quantitative","scale":{"domain":[94.388,102.671],"nice":false,"zero":false},"axis":{"orient":"right","values":[95,96,97,98,99,100,101,102],"title":null,"grid":false,"domainColor":"#1c1c78","domainWidth":1.5,"tickColor":"#1c1c78","tickSize":7,"tickWidth":1.2,"labelAlign":"right","labelPadding":33,"labelColor":"#3535a0","labelFontSize":13,"labelFont":"Liberation Sans","labelOverlap":false,"labelFlush":false}},"y2":{"field":"c"},"fill":{"condition":{"test":"datum.c >= datum.o","value":"#ffffff"},"value":"#000000"}}},
{"data":{"name":"ma"},"mark":{"type":"line","color":"#2da0c4","strokeWidth":2.5,"interpolate":"monotone"},"encoding":{"x":{"field":"i","type":"quantitative","scale":{"domain":[-0.685,165.29],"nice":false,"zero":false},"axis":null},"y":{"field":"v","type":"quantitative","scale":{"domain":[94.388,102.671],"nice":false,"zero":false},"axis":{"orient":"right","values":[94.667,95.333,95.667,96.333,96.667,97.333,97.667,98.333,98.667,99.333,99.667,100.333,100.667,101.333,101.667,102.333],"title":null,"grid":false,"domain":false,"labels":false,"tickColor":"#1c1c78","tickSize":2,"tickWidth":1}}}},
{"data":{"values":[{}]},"mark":{"type":"rect","cornerRadius":10,"fill":"#4a0000","opacity":0.75,"xOffset":4,"yOffset":4},"encoding":{"x":{"datum":44.85,"type":"quantitative","axis":null},"x2":{"datum":64.18},"y":{"datum":102.487,"type":"quantitative","axis":null},"y2":{"datum":99.849}}},
{"data":{"values":[{}]},"mark":{"type":"rect","cornerRadius":10,"fill":{"gradient":"linear","x1":0,"y1":0,"x2":1,"y2":1,"stops":[{"offset":0,"color":"#ff6a6a"},{"offset":0.15,"color":"#ff1010"},{"offset":0.85,"color":"#f00000"},{"offset":1,"color":"#b00000"}]}},"encoding":{"x":{"datum":44.85,"type":"quantitative","axis":null},"x2":{"datum":64.18},"y":{"datum":102.487,"type":"quantitative","axis":null},"y2":{"datum":99.849}}},
{"data":{"values":[{}]},"mark":{"type":"text","text":["美\u2002 元","指\u2002 数","日K线"],"lineHeight":20,"fill":"#ffff00","fontSize":18,"font":"Noto Sans CJK SC"},"encoding":{"x":{"datum":54.7,"type":"quantitative","axis":null},"y":{"datum":101.993,"type":"quantitative","axis":null}}},
{"data":{"values":[{}]},"mark":{"type":"text","text":"100.62","fill":"#0000ff","fontSize":11.5},"encoding":{"x":{"datum":88.54,"type":"quantitative","axis":null},"y":{"datum":101.058,"type":"quantitative","axis":null}}},
{"data":{"values":[{}]},"mark":{"type":"text","text":"97.61","fill":"#0000ff","fontSize":11.5},"encoding":{"x":{"datum":114.74,"type":"quantitative","axis":null},"y":{"datum":97.173,"type":"quantitative","axis":null}}},
{"data":{"values":[{}]},"mark":{"type":"rule","color":"#505050","strokeWidth":1},"encoding":{"x":{"datum":44.9,"type":"quantitative","axis":null},"x2":{"datum":47.1},"y":{"datum":95.597,"type":"quantitative","axis":null}}},
{"data":{"values":[{}]},"mark":{"type":"text","text":"95.5600","fill":"#505050","fontSize":12.5,"align":"left"},"encoding":{"x":{"datum":47.42,"type":"quantitative","axis":null},"y":{"datum":95.597,"type":"quantitative","axis":null}}},
{"data":{"values":[{}]},"mark":{"type":"rule","color":"#505050","strokeWidth":1},"encoding":{"x":{"datum":145.7,"type":"quantitative","axis":null},"x2":{"datum":149.6},"y":{"datum":101.645,"type":"quantitative","axis":null},"y2":{"datum":101.828}}},
{"data":{"values":[{}]},"mark":{"type":"text","text":"101.8000","fill":"#505050","fontSize":12.5,"align":"right"},"encoding":{"x":{"datum":145.45,"type":"quantitative","axis":null},"y":{"datum":101.645,"type":"quantitative","axis":null}}},
{"data":{"values":[{}]},"mark":{"type":"text","text":"L2","fill":"#ff0000","stroke":"#ffffff","strokeWidth":4,"fontSize":13,"fontWeight":"bold","font":"Liberation Serif"},"encoding":{"x":{"datum":130.77,"type":"quantitative","axis":null},"y":{"datum":100.453,"type":"quantitative","axis":null}}},
{"data":{"values":[{}]},"mark":{"type":"text","text":"L2","fill":"#ff0000","fontSize":13,"fontWeight":"bold","font":"Liberation Serif"},"encoding":{"x":{"datum":130.77,"type":"quantitative","axis":null},"y":{"datum":100.453,"type":"quantitative","axis":null}}},
{"data":{"values":[{}]},"mark":{"type":"text","text":"L1","fill":"#ff0000","stroke":"#ffffff","strokeWidth":4,"fontSize":13,"fontWeight":"bold","font":"Liberation Serif"},"encoding":{"x":{"datum":125.14,"type":"quantitative","axis":null},"y":{"datum":98.181,"type":"quantitative","axis":null}}},
{"data":{"values":[{}]},"mark":{"type":"text","text":"L1","fill":"#ff0000","fontSize":13,"fontWeight":"bold","font":"Liberation Serif"},"encoding":{"x":{"datum":125.14,"type":"quantitative","axis":null},"y":{"datum":98.181,"type":"quantitative","axis":null}}},
{"data":{"values":[{}]},"mark":{"type":"text","text":"月线","fill":"#e2eee2","stroke":"#e6f0e6","strokeWidth":11,"strokeJoin":"round","fontSize":15,"fontWeight":"bold","font":"Noto Sans CJK SC"},"encoding":{"x":{"datum":152.56,"type":"quantitative","axis":null},"y":{"datum":99.977,"type":"quantitative","axis":null}}},
{"data":{"values":[{}]},"mark":{"type":"text","text":"月线","fill":"#3a9cc0","fontSize":15,"fontWeight":"bold","font":"Noto Sans CJK SC"},"encoding":{"x":{"datum":152.56,"type":"quantitative","axis":null},"y":{"datum":99.977,"type":"quantitative","axis":null}}}
]},
{"width":678,"height":185,
"resolve":{"axis":{"y":"independent"}},
"layer":[
{"data":{"name":"vlines"},"mark":{"type":"rule","color":"#ff0000","strokeWidth":1.2,"strokeDash":[6,4]},"encoding":{"x":{"field":"i","type":"quantitative","scale":{"domain":[-0.685,165.29],"nice":false,"zero":false},"axis":null},"y":{"datum":103.853,"type":"quantitative","axis":null},"y2":{"datum":94.251}}},
{"data":{"name":"bands"},"mark":{"type":"line","strokeWidth":1,"interpolate":"monotone"},"encoding":{"x":{"field":"i","type":"quantitative","scale":{"domain":[-0.685,165.29],"nice":false,"zero":false},"axis":null},"y":{"field":"v","type":"quantitative","scale":{"domain":[94.251,103.853],"nice":false,"zero":false},"axis":null},"color":{"field":"s","type":"nominal","scale":{"domain":["ou","ol","iu","il"],"range":["#22a4c8","#22a4c8","#ff00ff","#ff00ff"]},"legend":null}}},
{"data":{"name":"dxy"},"mark":{"type":"bar","width":5,"color":"#b0b0b0","opacity":0.35,"xOffset":2,"yOffset":3},"encoding":{"x":{"field":"i","type":"quantitative","scale":{"domain":[-0.685,165.29],"nice":false,"zero":false},"axis":null},"y":{"field":"h","type":"quantitative","scale":{"domain":[94.251,103.853],"nice":false,"zero":false},"axis":null},"y2":{"field":"l"}}},
{"data":{"name":"dxy"},"mark":{"type":"rule","color":"#000000","strokeWidth":1},"encoding":{"x":{"field":"i","type":"quantitative","scale":{"domain":[-0.685,165.29],"nice":false,"zero":false},"axis":null},"y":{"field":"l","type":"quantitative","scale":{"domain":[94.251,103.853],"nice":false,"zero":false},"axis":null},"y2":{"field":"h"}}},
{"data":{"name":"dxy"},"mark":{"type":"bar","width":3,"stroke":"#000000","strokeWidth":1},"encoding":{"x":{"field":"i","type":"quantitative","scale":{"domain":[-0.685,165.29],"nice":false,"zero":false},"axis":null},"y":{"field":"o","type":"quantitative","scale":{"domain":[94.251,103.853],"nice":false,"zero":false},"axis":{"orient":"right","values":[96,98,100,102],"title":null,"grid":false,"domainColor":"#1c1c78","domainWidth":1.5,"tickColor":"#1c1c78","tickSize":7,"tickWidth":1.2,"labelAlign":"right","labelPadding":33,"labelColor":"#3535a0","labelFontSize":13,"labelFont":"Liberation Sans","labelOverlap":false,"labelFlush":false}},"y2":{"field":"c"},"fill":{"condition":{"test":"datum.c >= datum.o","value":"#ffffff"},"value":"#000000"}}},
{"data":{"name":"ma"},"mark":{"type":"line","color":"#0000ff","strokeWidth":3,"interpolate":"monotone"},"encoding":{"x":{"field":"i","type":"quantitative","scale":{"domain":[-0.685,165.29],"nice":false,"zero":false},"axis":null},"y":{"field":"v","type":"quantitative","scale":{"domain":[94.251,103.853],"nice":false,"zero":false},"axis":{"orient":"right","values":[94.5,95,95.5,96.5,97,97.5,98.5,99,99.5,100.5,101,101.5,102.5,103,103.5],"title":null,"grid":false,"domain":false,"labels":false,"tickColor":"#1c1c78","tickSize":2,"tickWidth":1}}}},
{"data":{"name":"mid"},"mark":{"type":"line","color":"#ff0000","strokeWidth":2.5,"interpolate":"monotone"},"encoding":{"x":{"field":"i","type":"quantitative","scale":{"domain":[-0.685,165.29],"nice":false,"zero":false},"axis":null},"y":{"field":"v","type":"quantitative","scale":{"domain":[94.251,103.853],"nice":false,"zero":false},"axis":null}}},
{"data":{"values":[{}]},"mark":{"type":"rule","color":"#1c1c78","strokeWidth":1.5},"encoding":{"x":{"datum":-0.685,"type":"quantitative","axis":null},"x2":{"datum":175.6},"y":{"datum":103.853,"type":"quantitative","axis":null}}},
{"data":{"values":[{}]},"mark":{"type":"text","text":"AAA超BOLL(20,2,0,0,-1,0,0,0,0,0)","fill":"#4a4a4a","fontSize":12,"align":"left"},"encoding":{"x":{"datum":-0.44,"type":"quantitative","axis":null},"y":{"datum":103.44,"type":"quantitative","axis":null}}},
{"data":{"values":[{}]},"mark":{"type":"text","text":"中枢线: 100.915","fill":"#ff0000","fontSize":12,"align":"left"},"encoding":{"x":{"datum":45.58,"type":"quantitative","axis":null},"y":{"datum":103.44,"type":"quantitative","axis":null}}},
{"data":{"values":[{}]},"mark":{"type":"text","text":"↓,","fill":"#ff0000","fontSize":12,"align":"left"},"encoding":{"x":{"datum":66.6,"type":"quantitative","axis":null},"y":{"datum":103.44,"type":"quantitative","axis":null}}},
{"data":{"values":[{}]},"mark":{"type":"text","text":"中轴线·威尔鑫: 100.881","fill":"#0000ff","fontSize":12,"align":"left"},"encoding":{"x":{"datum":70.3,"type":"quantitative","axis":null},"y":{"datum":103.44,"type":"quantitative","axis":null}}},
{"data":{"values":[{}]},"mark":{"type":"text","text":"↑","fill":"#20a8c8","fontSize":12,"align":"left"},"encoding":{"x":{"datum":101.2,"type":"quantitative","axis":null},"y":{"datum":103.44,"type":"quantitative","axis":null}}},
{"data":{"values":[{}]},"mark":{"type":"text","text":",","fill":"#0000ff","fontSize":12,"align":"left"},"encoding":{"x":{"datum":103.1,"type":"quantitative","axis":null},"y":{"datum":103.44,"type":"quantitative","axis":null}}},
{"data":{"values":[{}]},"mark":{"type":"text","text":"↓","fill":"#ff0000","fontSize":15},"encoding":{"x":{"datum":123.43,"type":"quantitative","axis":null},"y":{"datum":103.464,"type":"quantitative","axis":null}}},
{"data":{"values":[{}]},"mark":{"type":"text","text":"↓","fill":"#ff0000","fontSize":15},"encoding":{"x":{"datum":144.72,"type":"quantitative","axis":null},"y":{"datum":103.464,"type":"quantitative","axis":null}}},
{"data":{"values":[{}]},"mark":{"type":"text","text":"↓","fill":"#ff0000","fontSize":15},"encoding":{"x":{"datum":166.0,"type":"quantitative","axis":null},"y":{"datum":103.464,"type":"quantitative","axis":null}}}
]},
{"width":678,"height":171,
"resolve":{"axis":{"y":"independent"}},
"layer":[
{"data":{"name":"kdgrid"},"mark":{"type":"rule","color":"#00dd00","strokeWidth":1.3,"strokeDash":[1.5,2.5]},"encoding":{"x":{"datum":-0.685,"type":"quantitative","scale":{"domain":[-0.685,165.29],"nice":false,"zero":false},"axis":null},"x2":{"datum":162.1},"y":{"field":"lv","type":"quantitative","scale":{"domain":[-4.27,111.74],"nice":false,"zero":false},"axis":null}}},
{"data":{"name":"vlines"},"mark":{"type":"rule","color":"#ff0000","strokeWidth":1.2,"strokeDash":[6,4]},"encoding":{"x":{"field":"i","type":"quantitative","scale":{"domain":[-0.685,165.29],"nice":false,"zero":false},"axis":null},"y":{"datum":111.74,"type":"quantitative","axis":null},"y2":{"datum":-4.27}}},
{"data":{"name":"kd"},"mark":{"type":"line","color":"#a8a8a8","strokeWidth":3.5,"opacity":0.4,"xOffset":3,"yOffset":4},"encoding":{"x":{"field":"i","type":"quantitative","scale":{"domain":[-0.685,165.29],"nice":false,"zero":false},"axis":null},"y":{"field":"v","type":"quantitative","scale":{"domain":[-4.27,111.74],"nice":false,"zero":false},"axis":null},"detail":{"field":"s"}}},
{"data":{"name":"kd"},"transform":[{"filter":"datum.s === 'D'"}],"mark":{"type":"line","color":"#ff0000","strokeWidth":2},"encoding":{"x":{"field":"i","type":"quantitative","scale":{"domain":[-0.685,165.29],"nice":false,"zero":false},"axis":null},"y":{"field":"v","type":"quantitative","scale":{"domain":[-4.27,111.74],"nice":false,"zero":false},"axis":{"orient":"right","values":[0,20,40,60,80,100],"format":".4f","title":null,"grid":false,"domainColor":"#1c1c78","domainWidth":1.5,"tickColor":"#1c1c78","tickSize":7,"tickWidth":1.2,"labelAlign":"right","labelPadding":33,"labelColor":"#3535a0","labelFontSize":13,"labelFont":"Liberation Sans","labelOverlap":false,"labelFlush":false}}}},
{"data":{"name":"kd"},"transform":[{"filter":"datum.s === 'K'"}],"mark":{"type":"line","color":"#0000ff","strokeWidth":2},"encoding":{"x":{"field":"i","type":"quantitative","scale":{"domain":[-0.685,165.29],"nice":false,"zero":false},"axis":null},"y":{"field":"v","type":"quantitative","scale":{"domain":[-4.27,111.74],"nice":false,"zero":false},"axis":{"orient":"right","values":[10,30,50,70,90,110],"title":null,"grid":false,"domain":false,"labels":false,"tickColor":"#1c1c78","tickSize":2,"tickWidth":1}}}},
{"data":{"values":[{}]},"mark":{"type":"rule","color":"#1c1c78","strokeWidth":1.5},"encoding":{"x":{"datum":-0.685,"type":"quantitative","axis":null},"x2":{"datum":175.6},"y":{"datum":111.74,"type":"quantitative","axis":null}}},
{"data":{"values":[{}]},"mark":{"type":"text","text":"AAA超KDJ(9,3,3,1,0,0)","fill":"#4a4a4a","fontSize":12,"align":"left"},"encoding":{"x":{"datum":-0.44,"type":"quantitative","axis":null},"y":{"datum":105.63,"type":"quantitative","axis":null}}},
{"data":{"values":[{}]},"mark":{"type":"text","text":"K: 32.73","fill":"#0000ff","fontSize":12,"align":"left"},"encoding":{"x":{"datum":31.06,"type":"quantitative","axis":null},"y":{"datum":105.63,"type":"quantitative","axis":null}}},
{"data":{"values":[{}]},"mark":{"type":"text","text":"↓","fill":"#ff0000","fontSize":13,"align":"left"},"encoding":{"x":{"datum":42.2,"type":"quantitative","axis":null},"y":{"datum":106.2,"type":"quantitative","axis":null}}},
{"data":{"values":[{}]},"mark":{"type":"text","text":",","fill":"#0000ff","fontSize":12,"align":"left"},"encoding":{"x":{"datum":43.9,"type":"quantitative","axis":null},"y":{"datum":105.63,"type":"quantitative","axis":null}}},
{"data":{"values":[{}]},"mark":{"type":"text","text":"D: 40.04","fill":"#ff0000","fontSize":12,"align":"left"},"encoding":{"x":{"datum":45.75,"type":"quantitative","axis":null},"y":{"datum":105.63,"type":"quantitative","axis":null}}},
{"data":{"values":[{}]},"mark":{"type":"text","text":"↓","fill":"#ff0000","fontSize":13,"align":"left"},"encoding":{"x":{"datum":56.9,"type":"quantitative","axis":null},"y":{"datum":106.2,"type":"quantitative","axis":null}}},
{"data":{"values":[{}]},"mark":{"type":"text","text":",","fill":"#ff0000","fontSize":12,"align":"left"},"encoding":{"x":{"datum":58.6,"type":"quantitative","axis":null},"y":{"datum":105.63,"type":"quantitative","axis":null}}},
{"data":{"values":[{}]},"mark":{"type":"text","text":"KD: 32.73","fill":"#0000ff","fontSize":12,"align":"left"},"encoding":{"x":{"datum":60.27,"type":"quantitative","axis":null},"y":{"datum":105.63,"type":"quantitative","axis":null}}},
{"data":{"values":[{}]},"mark":{"type":"text","text":"↓","fill":"#ff0000","fontSize":13,"align":"left"},"encoding":{"x":{"datum":73.8,"type":"quantitative","axis":null},"y":{"datum":106.2,"type":"quantitative","axis":null}}},
{"data":{"values":[{}]},"mark":{"type":"text","text":",","fill":"#0000ff","fontSize":12,"align":"left"},"encoding":{"x":{"datum":75.5,"type":"quantitative","axis":null},"y":{"datum":105.63,"type":"quantitative","axis":null}}}
]},
{"width":678,"height":174,
"resolve":{"axis":{"y":"independent"}},
"layer":[
{"data":{"name":"vlines"},"mark":{"type":"rule","color":"#ff0000","strokeWidth":1.2,"strokeDash":[6,4]},"encoding":{"x":{"field":"i","type":"quantitative","scale":{"domain":[-0.685,165.29],"nice":false,"zero":false},"axis":null},"y":{"field":"v4","type":"quantitative","scale":{"domain":[3824.6,5858.9],"nice":false,"zero":false},"axis":null},"y2":{"datum":5858.9}}},
{"data":{"name":"gold"},"mark":{"type":"bar","width":5,"color":"#b0b0b0","opacity":0.35,"xOffset":2,"yOffset":3},"encoding":{"x":{"field":"i","type":"quantitative","scale":{"domain":[-0.685,165.29],"nice":false,"zero":false},"axis":null},"y":{"field":"h","type":"quantitative","scale":{"domain":[3824.6,5858.9],"nice":false,"zero":false},"axis":null},"y2":{"field":"l"}}},
{"data":{"name":"gold"},"mark":{"type":"rule","color":"#000000","strokeWidth":1},"encoding":{"x":{"field":"i","type":"quantitative","scale":{"domain":[-0.685,165.29],"nice":false,"zero":false},"axis":null},"y":{"field":"l","type":"quantitative","scale":{"domain":[3824.6,5858.9],"nice":false,"zero":false},"axis":null},"y2":{"field":"h"}}},
{"data":{"name":"gold"},"mark":{"type":"bar","width":3,"stroke":"#000000","strokeWidth":1},"encoding":{"x":{"field":"i","type":"quantitative","scale":{"domain":[-0.685,165.29],"nice":false,"zero":false},"axis":null},"y":{"field":"o","type":"quantitative","scale":{"domain":[3824.6,5858.9],"nice":false,"zero":false},"axis":{"orient":"right","values":[4000,4500,5000,5500],"format":"d","title":null,"grid":false,"domainColor":"#1c1c78","domainWidth":1.5,"tickColor":"#1c1c78","tickSize":7,"tickWidth":1.2,"labelAlign":"right","labelPadding":33,"labelColor":"#3535a0","labelFontSize":13,"labelFont":"Liberation Sans","labelOverlap":false,"labelFlush":false}},"y2":{"field":"c"},"fill":{"condition":{"test":"datum.c >= datum.o","value":"#ffffff"},"value":"#000000"}}},
{"data":{"name":"gma"},"mark":{"type":"line","color":"#2da0c4","strokeWidth":2.5,"interpolate":"monotone"},"encoding":{"x":{"field":"i","type":"quantitative","scale":{"domain":[-0.685,165.29],"nice":false,"zero":false},"axis":null},"y":{"field":"v","type":"quantitative","scale":{"domain":[3824.6,5858.9],"nice":false,"zero":false},"axis":{"orient":"right","values":[3900,4100,4200,4300,4400,4600,4700,4800,4900,5100,5200,5300,5400,5600,5700,5800],"title":null,"grid":false,"domain":false,"labels":false,"tickColor":"#1c1c78","tickSize":2,"tickWidth":1}}}},
{"data":{"values":[{}]},"mark":{"type":"text","text":"5598.75","fill":"#0000ee","fontSize":13,"fontWeight":"bold"},"encoding":{"x":{"datum":47.05,"type":"quantitative","axis":null},"y":{"datum":5718.6,"type":"quantitative","axis":null}}},
{"data":{"values":[{}]},"mark":{"type":"text","text":"月线","fill":"#e2eee2","stroke":"#e6f0e6","strokeWidth":11,"strokeJoin":"round","fontSize":15,"fontWeight":"bold","font":"Noto Sans CJK SC"},"encoding":{"x":{"datum":87.37,"type":"quantitative","axis":null},"y":{"datum":4982,"type":"quantitative","axis":null}}},
{"data":{"values":[{}]},"mark":{"type":"text","text":"月线","fill":"#3a9cc0","fontSize":15,"fontWeight":"bold","font":"Noto Sans CJK SC"},"encoding":{"x":{"datum":87.37,"type":"quantitative","axis":null},"y":{"datum":4982,"type":"quantitative","axis":null}}},
{"data":{"values":[{}]},"mark":{"type":"rect","cornerRadius":10,"fill":"#4a0000","opacity":0.75,"xOffset":4,"yOffset":4},"encoding":{"x":{"datum":138.78,"type":"quantitative","axis":null},"x2":{"datum":159.17},"y":{"datum":5687,"type":"quantitative","axis":null},"y2":{"datum":4791.5}}},
{"data":{"values":[{}]},"mark":{"type":"rect","cornerRadius":10,"fill":{"gradient":"linear","x1":0,"y1":0,"x2":1,"y2":1,"stops":[{"offset":0,"color":"#ff6a6a"},{"offset":0.15,"color":"#ff1010"},{"offset":0.85,"color":"#f00000"},{"offset":1,"color":"#b00000"}]}},"encoding":{"x":{"datum":138.78,"type":"quantitative","axis":null},"x2":{"datum":159.17},"y":{"datum":5687,"type":"quantitative","axis":null},"y2":{"datum":4791.5}}},
{"data":{"values":[{}]},"mark":{"type":"text","text":["国际现","货金价","日\u2002 K线"],"lineHeight":20,"fill":"#ffff00","fontSize":18,"font":"Noto Sans CJK SC"},"encoding":{"x":{"datum":148.77,"type":"quantitative","axis":null},"y":{"datum":5467.3,"type":"quantitative","axis":null}}},
{"data":{"values":[{}]},"mark":{"type":"rule","color":"#1c1c78","strokeWidth":1.5},"encoding":{"x":{"datum":-0.685,"type":"quantitative","axis":null},"x2":{"datum":175.6},"y":{"datum":5858.9,"type":"quantitative","axis":null}}},
{"data":{"values":[{}]},"mark":{"type":"rule","color":"#1c1c78","strokeWidth":1.5},"encoding":{"x":{"datum":8.62,"type":"quantitative","axis":null},"x2":{"datum":175.6},"y":{"datum":3824.6,"type":"quantitative","axis":null}}},
{"data":{"values":[{}]},"mark":{"type":"rule","color":"#1c1c78","strokeWidth":1.5},"encoding":{"x":{"datum":175.6,"type":"quantitative","axis":null},"y":{"datum":5858.9,"type":"quantitative","axis":null},"y2":{"datum":3824.6}}},
{"data":{"name":"xticks"},"transform":[{"filter":"datum.k === 'm'"}],"mark":{"type":"rule","color":"#1c1c78","strokeWidth":1.2},"encoding":{"x":{"field":"t","type":"quantitative","scale":{"domain":[-0.685,165.29],"nice":false,"zero":false},"axis":null},"y":{"datum":3824.6,"type":"quantitative","axis":null},"y2":{"datum":3660.9}}},
{"data":{"name":"xticks"},"transform":[{"filter":"datum.k === 'w'"}],"mark":{"type":"rule","color":"#1c1c78","strokeWidth":1.2},"encoding":{"x":{"field":"t","type":"quantitative","scale":{"domain":[-0.685,165.29],"nice":false,"zero":false},"axis":null},"y":{"datum":3824.6,"type":"quantitative","axis":null},"y2":{"datum":3772}}},
{"data":{"name":"xticks"},"transform":[{"filter":"datum.k === 'm'"}],"mark":{"type":"text","align":"left","baseline":"alphabetic","dx":2,"fill":"#2b2b90","fontSize":12.5},"encoding":{"x":{"field":"t","type":"quantitative","scale":{"domain":[-0.685,165.29],"nice":false,"zero":false},"axis":null},"y":{"datum":3690,"type":"quantitative","axis":null},"text":{"field":"lab"}}},
{"data":{"values":[{}]},"mark":{"type":"text","text":"威尔鑫","fill":"#333333","fontSize":12.5,"align":"left","baseline":"alphabetic","font":"Noto Sans CJK SC"},"encoding":{"x":{"datum":-0.44,"type":"quantitative","axis":null},"y":{"datum":3690,"type":"quantitative","axis":null}}},
{"data":{"values":[{}]},"mark":{"type":"text","text":"日线","fill":"#333333","fontSize":12.5,"align":"left","baseline":"alphabetic","font":"Noto Sans CJK SC"},"encoding":{"x":{"datum":165.78,"type":"quantitative","axis":null},"y":{"datum":3690,"type":"quantitative","axis":null}}}
]}
]
}
